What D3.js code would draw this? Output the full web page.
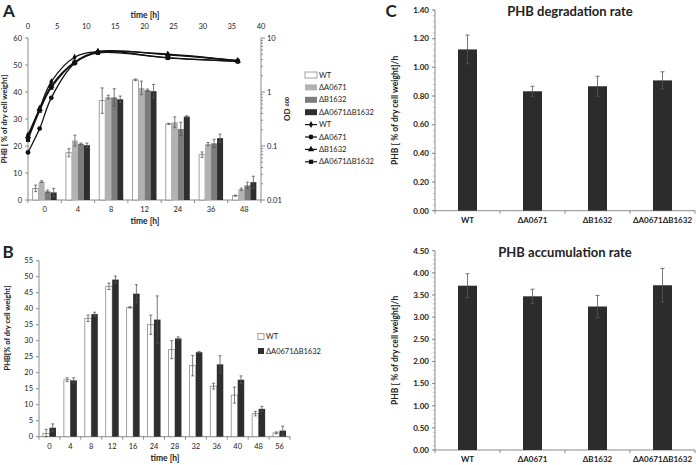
<!DOCTYPE html>
<html><head><meta charset="utf-8">
<script src="https://cdn.jsdelivr.net/npm/d3@7"></script>
<style>body{margin:0;background:#fff} svg{display:block} text{font-family:Lato,"Open Sans",sans-serif;fill:#222}</style>
</head><body><svg id="c" width="696" height="465"></svg>
<script>
// ---------- Panel A data ----------
const timeCatsA = ["0","4","8","12","24","36","48"];
const strainsA = ["WT","ΔA0671","ΔB1632","ΔA0671ΔB1632"];
const phbA_WT = [4.3,17.5,36.8,44.5,28.2,16.8,1.6];
const phbA_WT_err = [1.2,1.5,4.7,0.3,0.2,1.0,0.2];
const phbA_A0671 = [6.8,22.0,38.1,41.5,28.8,20.7,4.0];
const phbA_A0671_err = [0.3,2.0,0.7,2.5,2.0,0.6,0.4];
const phbA_B1632 = [3.2,20.8,38.0,40.7,26.3,21.0,5.4];
const phbA_B1632_err = [0.5,0.3,3.2,0.4,2.5,1.5,1.2];
const phbA_dbl = [2.8,20.3,37.3,40.3,30.9,22.9,6.6];
const phbA_dbl_err = [1.5,0.8,1.2,2.5,0.3,1.5,2.2];
const odTimes = [0,2,4,8,12,24,36];
const od_WT = [0.16,0.50,1.55,4.4,5.6,5.0,3.8];
const od_A0671 = [0.076,0.21,0.78,3.4,5.5,4.3,3.7];
const od_B1632 = [0.15,0.48,1.3,3.6,5.6,4.9,3.8];
const od_dbl = [0.13,0.45,1.2,3.5,5.3,4.3,3.7];
const topTicksA = [0,5,10,15,20,25,30,35,40];
const leftTicksA = [0,10,20,30,40,50,60];
const odTicks = [0.01,0.1,1,10];
const odTickLabels = ["0.01","0.1","1","10"];

// ---------- Panel B data ----------
const timeCatsB = ["0","4","8","12","16","24","28","32","36","40","48","56"];
const strainsB = ["WT","ΔA0671ΔB1632"];
const phbB_WT = [1.0,17.8,37.0,47.0,40.4,35.0,27.2,22.2,15.8,13.0,7.2,1.2];
const phbB_WT_err = [1.3,0.6,1.0,1.0,0.2,3.0,2.8,3.2,0.9,2.5,0.7,0.3];
const phbB_dbl = [2.8,17.6,38.3,49.1,44.7,36.6,30.7,26.4,22.6,17.8,8.7,1.9];
const phbB_dbl_err = [1.2,0.8,0.6,1.1,2.8,7.4,0.5,0.2,2.7,1.2,0.8,1.4];
const leftTicksB = [0,5,10,15,20,25,30,35,40,45,50,55];

// ---------- Panel C data ----------
const strainsC = ["WT","ΔA0671","ΔB1632","ΔA0671ΔB1632"];
const degRate = [1.125,0.833,0.868,0.909];
const degErr = [0.10,0.035,0.07,0.06];
const accRate = [3.71,3.47,3.24,3.72];
const accErr = [0.27,0.16,0.25,0.38];
const degTicks = [0,0.2,0.4,0.6,0.8,1.0,1.2,1.4];
const accTicks = [0,0.5,1,1.5,2,2.5,3,3.5,4,4.5];

const svg = d3.select("#c");
const AX = "#8a8a8a";
function line(x1,y1,x2,y2,c,w){svg.append("line").attr("x1",x1).attr("y1",y1).attr("x2",x2).attr("y2",y2).attr("stroke",c||AX).attr("stroke-width",w||1);}
function txt(x,y,s,o){o=o||{};const t=svg.append("text").attr("x",x).attr("y",y).text(s).attr("font-size",o.size||7.5).attr("text-anchor",o.anchor||"middle");if(o.bold)t.attr("font-weight","bold");if(o.rot)t.attr("transform",`rotate(-90,${x},${y})`);return t;}
function errBar(x,y1,y2,cap){line(x,y1,x,y2,"#555",0.8);line(x-cap,y1,x+cap,y1,"#555",0.8);line(x-cap,y2,x+cap,y2,"#555",0.8);}

// ================= PANEL A =================
txt(9,17,"A",{size:17,bold:true});
const xA = d3.scaleBand().domain(timeCatsA).range([28,261]);
const subA = d3.scaleBand().domain(strainsA).range([-12,12]);
const yA = d3.scaleLinear().domain([0,60]).range([200,38]);
const xT = d3.scaleLinear().domain([0,40]).range([28,261]);
const yOD = d3.scaleLog().domain([0.01,10]).range([200,38]);
const fillsA = ["#ffffff","#b2b2b2","#7c7c7c","#2e2e2e"];
const valsA = [phbA_WT,phbA_A0671,phbA_B1632,phbA_dbl];
const errsA = [phbA_WT_err,phbA_A0671_err,phbA_B1632_err,phbA_dbl_err];
// axes
line(28,38,28,200);
leftTicksA.forEach(v=>{line(25,yA(v),28,yA(v));txt(22,yA(v)+2.6,v,{anchor:"end"});});
line(28,200,261,200);
timeCatsA.forEach((c,i)=>{line(xA(c),200,xA(c),203);txt(xA(c)+xA.bandwidth()/2,212,c);});
line(261,200,261,203);
txt(145,224,"time [h]",{size:8.5,bold:true});
topTicksA.forEach(t=>txt(xT(t),29,t));
txt(145,18,"time [h]",{size:8.5,bold:true});
line(261,38,261,200);
odTicks.forEach((v,i)=>{line(261,yOD(v),265,yOD(v));txt(267,yOD(v)+2.6,odTickLabels[i],{anchor:"start"});});
for(let d=0.01;d<10;d*=10){for(let k=2;k<10;k++){const y=yOD(d*k);line(261,y,263,y);}}
txt(7,119,"PHB [ % of dry cell weight]",{size:7.5,bold:true,rot:true});
const odL = svg.append("text").attr("transform","translate(290,109) rotate(-90)").attr("text-anchor","middle").attr("font-size",8).attr("font-weight","bold");
odL.append("tspan").text("OD ");
odL.append("tspan").text("600").attr("font-size",5.5).attr("dy",-1);
// bars
strainsA.forEach((s,si)=>{
  timeCatsA.forEach((c,i)=>{
    const cx = xA(c)+xA.bandwidth()/2+subA(s);
    const v = valsA[si][i];
    svg.append("rect").attr("x",cx).attr("y",yA(v)).attr("width",subA.bandwidth()).attr("height",200-yA(v))
      .attr("fill",fillsA[si]).attr("stroke",si===0?"#8a8a8a":"none").attr("stroke-width",0.8);
  });
});
strainsA.forEach((s,si)=>{
  timeCatsA.forEach((c,i)=>{
    const cx = xA(c)+xA.bandwidth()/2+subA(s)+subA.bandwidth()/2;
    const v = valsA[si][i], e=errsA[si][i];
    errBar(cx,yA(v+e),yA(Math.max(0,v-e)),1.5);
  });
});
// OD lines
const odSeries = [od_WT,od_A0671,od_B1632,od_dbl];
const markers = [d3.symbolDiamond,d3.symbolCircle,d3.symbolTriangle,d3.symbolSquare];
const lg = d3.line().x((d,i)=>xT(odTimes[i])).y(d=>yOD(d)).curve(d3.curveCatmullRom);
odSeries.forEach((s,si)=>{
  svg.append("path").attr("d",lg(s)).attr("fill","none").attr("stroke","#111").attr("stroke-width",1.3);
  s.forEach((v,i)=>svg.append("path").attr("d",d3.symbol(markers[si],si===0?14:18)()).attr("transform",`translate(${xT(odTimes[i])},${yOD(v)})`).attr("fill","#111"));
});
// legend A
const legY = [75,87.4,99.8,112.2,124.6,137,149.4,161.8];
strainsA.forEach((s,si)=>{
  svg.append("rect").attr("x",305).attr("y",legY[si]-3).attr("width",12).attr("height",6).attr("fill",fillsA[si]).attr("stroke",si===0?"#8a8a8a":"none").attr("stroke-width",0.8);
  txt(319,legY[si]+2.6,s,{anchor:"start"});
});
strainsA.forEach((s,si)=>{
  const y=legY[4+si];
  line(305,y,317,y,"#111",1.2);
  svg.append("path").attr("d",d3.symbol(markers[si],si===0?14:18)()).attr("transform",`translate(311,${y})`).attr("fill","#111");
  txt(319,y+2.6,s,{anchor:"start"});
});

// ================= PANEL B =================
txt(8,258,"B",{size:17,bold:true});
const xB = d3.scaleBand().domain(timeCatsB).range([39,290]);
const subB = d3.scaleBand().domain(strainsB).range([-6.5,6.5]);
const yB = d3.scaleLinear().domain([0,55]).range([436.7,260.7]);
const fillsB = ["#ffffff","#2e2e2e"];
const valsB = [phbB_WT,phbB_dbl], errsB=[phbB_WT_err,phbB_dbl_err];
line(39,260.7,39,436.7);
leftTicksB.forEach(v=>{line(36,yB(v),39,yB(v));txt(33,yB(v)+2.6,v,{anchor:"end"});});
line(39,436.7,290,436.7);
timeCatsB.forEach(c=>{line(xB(c),436.7,xB(c),439.7);txt(xB(c)+xB.bandwidth()/2,449,c);});
line(290,436.7,290,439.7);
txt(165,461,"time [h]",{size:8.5,bold:true});
txt(10,328,"PHB[% of dry cell weight]",{size:7.5,bold:true,rot:true});
strainsB.forEach((s,si)=>timeCatsB.forEach((c,i)=>{
  const x=xB(c)+xB.bandwidth()/2+subB(s), v=valsB[si][i];
  svg.append("rect").attr("x",x).attr("y",yB(v)).attr("width",subB.bandwidth()).attr("height",436.7-yB(v)).attr("fill",fillsB[si]).attr("stroke",si===0?"#8a8a8a":"none").attr("stroke-width",0.8);
}));
strainsB.forEach((s,si)=>timeCatsB.forEach((c,i)=>{
  const x=xB(c)+xB.bandwidth()/2+subB(s)+subB.bandwidth()/2, v=valsB[si][i], e=errsB[si][i];
  errBar(x,yB(v+e),yB(Math.max(0,v-e)),1.5);
}));
[336.5,351].forEach((y,si)=>{
  svg.append("rect").attr("x",258).attr("y",y-3).attr("width",6).attr("height",6).attr("fill",fillsB[si]).attr("stroke",si===0?"#8a8a8a":"none").attr("stroke-width",0.8);
  txt(266,y+2.6,strainsB[si],{anchor:"start"});
});

// ================= PANEL C =================
txt(391,17,"C",{size:17,bold:true});
function panelC(top,bottom,max,ticks,fmtDigits,vals,errs,title,titleY,titleX,minorStep){
  const x = d3.scaleBand().domain(strainsC).range([435,695]);
  const y = d3.scaleLinear().domain([0,max]).range([bottom,top]);
  line(435,top,435,bottom);
  for(let v=0;v<=max+1e-9;v+=minorStep){line(433,y(v),435,y(v),"#aaa",0.8);}
  ticks.forEach(v=>{line(432,y(v),435,y(v));txt(429,y(v)+2.8,v.toFixed(fmtDigits),{anchor:"end",bold:true,size:8});});
  line(435,bottom,695,bottom);
  strainsC.forEach(s=>{line(x(s),bottom,x(s),bottom+3);txt(x(s)+x.bandwidth()/2,bottom+12,s,{bold:true,size:8});});
  line(695,bottom,695,bottom+3);
  strainsC.forEach((s,i)=>{
    const cx=x(s)+x.bandwidth()/2;
    svg.append("rect").attr("x",cx-9.5).attr("y",y(vals[i])).attr("width",19).attr("height",bottom-y(vals[i])).attr("fill","#2c2c2c");
    errBar(cx,y(vals[i]+errs[i]),y(vals[i]-errs[i]),2);
  });
  txt(titleX,titleY,title,{size:13,bold:true});
  txt(398,(top+bottom)/2,"PHB [ % of dry cell weight]/h",{size:8.5,bold:true,rot:true});
}
panelC(10,210.7,1.4,degTicks,2,degRate,degErr,"PHB degradation rate",16,570,0.04);
panelC(250.7,450,4.5,accTicks,2,accRate,accErr,"PHB accumulation rate",257,565,0.1);
</script></body></html>
